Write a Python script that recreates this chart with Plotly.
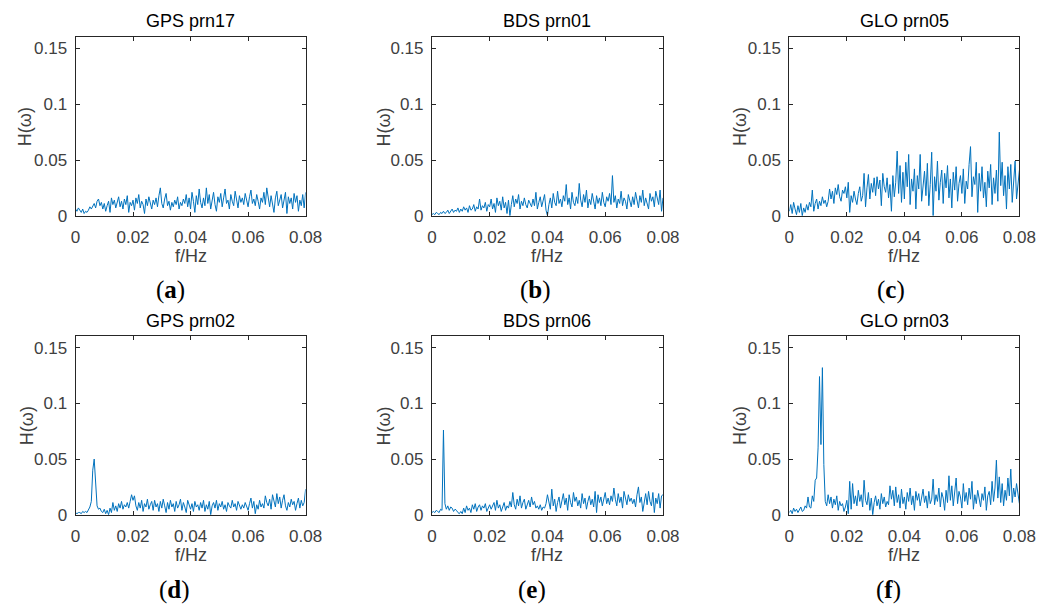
import plotly.graph_objects as go
import numpy as np

# Frequency grid (Hz), 0 to 0.08 at 0.0005 Hz spacing
freq = np.round(np.arange(161) * 0.0005, 4).tolist()

titles = ["GPS prn17", "BDS prn01", "GLO prn05", "GPS prn02", "BDS prn06", "GLO prn03"]
panel_labels = ["a", "b", "c", "d", "e", "f"]
x_ticks = [0, 0.02, 0.04, 0.06, 0.08]
x_tick_text = ["0", "0.02", "0.04", "0.06", "0.08"]
y_ticks = [0, 0.05, 0.1, 0.15]
y_tick_text = ["0", "0.05", "0.1", "0.15"]

gps_prn17 = [
    0.006, 0.004, 0.007, 0.005, 0.003, 0.006, 0.002, 0.004, 0.003, 0.005,
    0.008, 0.006, 0.009, 0.011, 0.007, 0.013, 0.015, 0.009, 0.012, 0.006,
    0.011, 0.004, 0.009, 0.013, 0.003, 0.016, 0.010, 0.014, 0.007, 0.012,
    0.017, 0.008, 0.013, 0.006, 0.015, 0.010, 0.018, 0.003, 0.012, 0.009,
    0.014, 0.005, 0.016, 0.011, 0.019, 0.007, 0.013, 0.010, 0.002, 0.015,
    0.009, 0.017, 0.012, 0.006, 0.014, 0.010, 0.016, 0.008, 0.018, 0.025,
    0.011, 0.007, 0.015, 0.020, 0.009, 0.013, 0.005, 0.012, 0.008, 0.014,
    0.010, 0.017, 0.006, 0.012, 0.009, 0.015, 0.011, 0.019, 0.008, 0.016,
    0.006, 0.021, 0.013, 0.003, 0.018, 0.010, 0.024, 0.012, 0.007, 0.016,
    0.009, 0.025, 0.011, 0.019, 0.006, 0.015, 0.021, 0.010, 0.004, 0.017,
    0.012, 0.020, 0.008, 0.016, 0.024, 0.011, 0.014, 0.006, 0.019, 0.013,
    0.009, 0.022, 0.015, 0.007, 0.018, 0.012, 0.016, 0.010, 0.020, 0.014,
    0.008, 0.017, 0.023, 0.011, 0.015, 0.009, 0.019, 0.013, 0.006, 0.016,
    0.012, 0.021, 0.010, 0.025, 0.014, 0.008, 0.018, 0.011, 0.003, 0.016,
    0.022, 0.009, 0.015, 0.019, 0.007, 0.013, 0.021, 0.002, 0.017, 0.011,
    0.016, 0.006, 0.020, 0.012, 0.018, 0.004, 0.014, 0.009, 0.019, 0.007,
    0.021,
]

bds_prn01 = [
    0.001, 0.002, 0.001, 0.003, 0.002, 0.001, 0.003, 0.002, 0.004, 0.002,
    0.003, 0.005, 0.002, 0.004, 0.006, 0.003, 0.005, 0.004, 0.007, 0.003,
    0.006, 0.004, 0.008, 0.005, 0.007, 0.003, 0.009, 0.005, 0.006, 0.010,
    0.004, 0.008, 0.006, 0.015, 0.005, 0.009, 0.007, 0.012, 0.004, 0.010,
    0.008, 0.015, 0.006, 0.011, 0.003, 0.016, 0.009, 0.013, 0.005, 0.017,
    0.007, 0.012, 0.002, 0.014, 0.000, 0.010, 0.018, 0.008, 0.015, 0.011,
    0.019, 0.006, 0.013, 0.009, 0.016, 0.010, 0.007, 0.014, 0.011, 0.008,
    0.015, 0.009, 0.021, 0.006, 0.012, 0.017, 0.008, 0.013, 0.019, 0.005,
    0.000, 0.010, 0.016, 0.007, 0.020, 0.012, 0.009, 0.022, 0.011, 0.015,
    0.008, 0.018, 0.013, 0.028, 0.010, 0.016, 0.006, 0.021, 0.012, 0.009,
    0.017, 0.011, 0.029, 0.014, 0.008, 0.019, 0.012, 0.023, 0.007, 0.015,
    0.010, 0.020, 0.013, 0.006, 0.018, 0.011, 0.016, 0.009, 0.021, 0.012,
    0.008, 0.017, 0.013, 0.020, 0.010, 0.036, 0.012, 0.018, 0.007, 0.015,
    0.011, 0.022, 0.009, 0.016, 0.013, 0.006, 0.019, 0.012, 0.008, 0.017,
    0.010, 0.021, 0.014, 0.007, 0.018, 0.012, 0.023, 0.009, 0.016, 0.011,
    0.006, 0.020, 0.013, 0.017, 0.008, 0.022, 0.014, 0.010, 0.023, 0.004,
    0.016,
]

glo_prn05 = [
    0.004, 0.010, 0.002, 0.012, 0.006, 0.001, 0.009, 0.003, 0.011, 0.000,
    0.007, 0.003, 0.010, 0.005, 0.012, 0.008, 0.023, 0.004, 0.011, 0.015,
    0.006, 0.013, 0.009, 0.017, 0.011, 0.014, 0.008, 0.013, 0.024, 0.015,
    0.022, 0.011, 0.025, 0.019, 0.028, 0.017, 0.013, 0.023, 0.020, 0.026,
    0.016, 0.030, 0.003, 0.018, 0.012, 0.022, 0.015, 0.010, 0.020, 0.026,
    0.013, 0.018, 0.038, 0.008, 0.025, 0.037, 0.015, 0.029, 0.021, 0.034,
    0.018, 0.035, 0.024, 0.032, 0.009, 0.038, 0.026, 0.021, 0.034, 0.016,
    0.028, 0.004, 0.036, 0.017, 0.030, 0.058, 0.020, 0.045, 0.012, 0.039,
    0.015, 0.048, 0.026, 0.055, 0.010, 0.033, 0.022, 0.042, 0.006, 0.036,
    0.024, 0.055, 0.013, 0.031, 0.040, 0.018, 0.047, 0.009, 0.028, 0.057,
    0.000, 0.035, 0.022, 0.049, 0.014, 0.030, 0.041, 0.011, 0.038, 0.025,
    0.045, 0.016, 0.033, 0.007, 0.039, 0.023, 0.044, 0.013, 0.029, 0.036,
    0.020, 0.042, 0.011, 0.031, 0.024, 0.046, 0.062, 0.017, 0.035, 0.028,
    0.048, 0.003, 0.038, 0.022, 0.044, 0.016, 0.030, 0.008, 0.040, 0.025,
    0.046, 0.010, 0.034, 0.020, 0.041, 0.013, 0.075, 0.027, 0.048, 0.018,
    0.036, 0.006, 0.044, 0.024, 0.046, 0.012, 0.031, 0.049, 0.015, 0.029,
    0.041,
]

gps_prn02 = [
    0.002, 0.001, 0.002, 0.002, 0.001, 0.003, 0.002, 0.003, 0.002, 0.004,
    0.007, 0.012, 0.040, 0.050, 0.030, 0.008, 0.005, 0.006, 0.003, 0.002,
    0.005, 0.001, 0.004, 0.000, 0.006, 0.002, 0.011, 0.004, 0.008, 0.003,
    0.010, 0.006, 0.012, 0.005, 0.009, 0.007, 0.011, 0.006, 0.012, 0.018,
    0.013, 0.017, 0.008, 0.004, 0.011, 0.006, 0.013, 0.003, 0.010, 0.007,
    0.014, 0.005, 0.009, 0.012, 0.004, 0.013, 0.007, 0.010, 0.003, 0.012,
    0.006, 0.014, 0.008, 0.002, 0.011, 0.005, 0.013, 0.007, 0.010, 0.003,
    0.012, 0.006, 0.009, 0.014, 0.004, 0.011, 0.007, 0.002, 0.013, 0.008,
    0.005, 0.010, 0.003, 0.012, 0.007, 0.009, 0.004, 0.011, 0.006, 0.013,
    0.003, 0.009, 0.005, 0.012, 0.000, 0.008, 0.011, 0.006, 0.013, 0.004,
    0.010, 0.007, 0.012, 0.005, 0.009, 0.003, 0.011, 0.008, 0.006, 0.013,
    0.007, 0.010, 0.004, 0.012, 0.008, 0.005, 0.009, 0.006, 0.011, 0.007,
    0.004, 0.010, 0.015, 0.006, 0.012, 0.001, 0.009, 0.005, 0.013, 0.007,
    0.010, 0.006, 0.017, 0.011, 0.008, 0.014, 0.005, 0.018, 0.012, 0.007,
    0.019, 0.010, 0.016, 0.006, 0.013, 0.018, 0.008, 0.004, 0.011, 0.007,
    0.014, 0.009, 0.012, 0.004, 0.010, 0.015, 0.006, 0.013, 0.008, 0.011,
    0.023,
]

bds_prn06 = [
    0.002, 0.003, 0.002, 0.004, 0.003, 0.002, 0.005, 0.004, 0.076, 0.010,
    0.005, 0.008, 0.004, 0.007, 0.006, 0.003, 0.005, 0.004, 0.002, 0.001,
    0.003, 0.001, 0.006, 0.002, 0.008, 0.004, 0.006, 0.002, 0.009, 0.005,
    0.010, 0.003, 0.007, 0.009, 0.004, 0.008, 0.006, 0.010, 0.003, 0.007,
    0.009, 0.005, 0.008, 0.011, 0.004, 0.013, 0.006, 0.009, 0.003, 0.007,
    0.011, 0.004, 0.008, 0.006, 0.012, 0.007, 0.020, 0.009, 0.005, 0.014,
    0.008, 0.017, 0.006, 0.011, 0.014, 0.005, 0.010, 0.013, 0.007, 0.016,
    0.009, 0.012, 0.006, 0.008, 0.005, 0.009, 0.004, 0.007, 0.006, 0.010,
    0.018, 0.012, 0.005, 0.023, 0.008, 0.014, 0.003, 0.011, 0.016, 0.006,
    0.013, 0.019, 0.009, 0.015, 0.004, 0.018, 0.011, 0.007, 0.020, 0.012,
    0.016, 0.008, 0.013, 0.006, 0.019, 0.010, 0.015, 0.005, 0.012, 0.017,
    0.009, 0.014, 0.007, 0.021, 0.002, 0.018, 0.011, 0.016, 0.008, 0.013,
    0.020, 0.010, 0.015, 0.009, 0.017, 0.012, 0.024, 0.014, 0.008, 0.019,
    0.011, 0.016, 0.006, 0.021, 0.013, 0.009, 0.018, 0.012, 0.015, 0.010,
    0.014, 0.007, 0.018, 0.025, 0.011, 0.016, 0.003, 0.013, 0.019, 0.009,
    0.021, 0.012, 0.008, 0.020, 0.002, 0.015, 0.010, 0.019, 0.006, 0.017,
    0.018,
]

glo_prn03 = [
    0.002, 0.004, 0.001, 0.006, 0.003, 0.005, 0.002, 0.004, 0.007, 0.003,
    0.004, 0.008, 0.006, 0.016, 0.007, 0.006, 0.017, 0.012, 0.031, 0.033,
    0.060, 0.124, 0.063, 0.132, 0.045, 0.012, 0.008, 0.018, 0.010, 0.016,
    0.006, 0.014, 0.009, 0.017, 0.004, 0.012, 0.008, 0.010, 0.003, 0.007,
    0.013, 0.001, 0.030, 0.005, 0.028, 0.010, 0.017, 0.008, 0.022, 0.012,
    0.018, 0.007, 0.031, 0.013, 0.009, 0.020, 0.004, 0.015, 0.000, 0.011,
    0.017, 0.008, 0.014, 0.005, 0.019, 0.010, 0.016, 0.007, 0.012, 0.009,
    0.026, 0.014, 0.022, 0.008, 0.025, 0.011, 0.018, 0.006, 0.023, 0.010,
    0.016, 0.005, 0.020, 0.012, 0.024, 0.009, 0.017, 0.004, 0.021, 0.013,
    0.019, 0.008, 0.015, 0.023, 0.011, 0.017, 0.006, 0.021, 0.010, 0.014,
    0.032, 0.009, 0.018, 0.012, 0.024, 0.007, 0.020, 0.015, 0.004, 0.022,
    0.011, 0.035, 0.013, 0.026, 0.008, 0.019, 0.033, 0.010, 0.021, 0.016,
    0.006, 0.028, 0.012, 0.020, 0.009, 0.024, 0.014, 0.030, 0.005, 0.018,
    0.010, 0.022, 0.016, 0.007, 0.019, 0.013, 0.025, 0.004, 0.017, 0.021,
    0.009, 0.030, 0.012, 0.024, 0.049, 0.015, 0.034, 0.011, 0.028, 0.008,
    0.022, 0.013, 0.033, 0.017, 0.041, 0.011, 0.024, 0.016, 0.028, 0.019,
    0.010,
]

series = [gps_prn17, bds_prn01, glo_prn05, gps_prn02, bds_prn06, glo_prn03]

W, H = 1056, 615
# plot-area pixel boxes (left, right) for columns and (top, bottom) for rows
cols = [(72, 307), (436, 672), (801, 1036)]
rows = [(38, 219.3), (342, 523.3)]
ylab_x = [[20, 387, 750], [22, 387, 750]]
lab_x = [[169, 542, 905], [173, 538, 902]]

LINE = "#0072BD"
AXC = "#262626"
TICKC = "#404040"
FONT = "Liberation Sans, Arial, sans-serif"

fig = go.Figure()
annotations = []
for i, ys in enumerate(series):
    r, c = divmod(i, 3)
    n = i + 1
    xa = "x" if n == 1 else f"x{n}"
    ya = "y" if n == 1 else f"y{n}"
    fig.add_trace(go.Scatter(x=freq, y=ys, mode="lines",
                             line=dict(color=LINE, width=1),
                             xaxis=xa, yaxis=ya, showlegend=False,
                             hoverinfo="skip"))
    l, rr = cols[c]
    t, b = rows[r]
    xdom = [l / W, rr / W]
    ydom = [1 - b / H, 1 - t / H]
    axcommon = dict(showgrid=False, zeroline=False, showline=True,
                    linecolor=AXC, linewidth=1, mirror="ticks",
                    ticks="inside", ticklen=4, tickwidth=1, tickcolor=AXC,
                    tickfont=dict(family=FONT, size=17, color=TICKC))
    fig.update_layout(**{
        ("xaxis" if n == 1 else f"xaxis{n}"): dict(
            domain=xdom, range=[0, 0.08], tickvals=x_ticks, ticktext=x_tick_text,
            anchor=ya, ticklabelstandoff=6, **axcommon),
        ("yaxis" if n == 1 else f"yaxis{n}"): dict(
            domain=ydom, range=[0, 0.16], tickvals=y_ticks, ticktext=y_tick_text,
            anchor=xa, ticklabelstandoff=4, **axcommon),
    })
    cx = (l + rr) / 2
    # title
    annotations.append(dict(text=titles[i], x=cx / W, y=1 - (t - 4) / H,
                            xref="paper", yref="paper", xanchor="center", yanchor="bottom",
                            showarrow=False, font=dict(family=FONT, size=18, color="#000000")))
    # x label
    annotations.append(dict(text="f/Hz", x=cx / W, y=1 - (b + 41) / H,
                            xref="paper", yref="paper", xanchor="center", yanchor="middle",
                            showarrow=False, font=dict(family=FONT, size=18, color=TICKC)))
    # y label
    annotations.append(dict(text="H(ω)", x=ylab_x[r][c] / W, y=1 - ((t + b) / 2) / H,
                            xref="paper", yref="paper", xanchor="center", yanchor="middle",
                            textangle=-90, showarrow=False,
                            font=dict(family=FONT, size=18, color=TICKC)))
    # panel label
    annotations.append(dict(text=f"(<b>{panel_labels[i]}</b>)", x=lab_x[r][c] / W,
                            y=1 - (b + 76) / H,
                            xref="paper", yref="paper", xanchor="center", yanchor="middle",
                            showarrow=False,
                            font=dict(family="Liberation Serif, DejaVu Serif, serif", size=25, color="#000000")))

fig.update_layout(width=W, height=H, margin=dict(l=0, r=0, t=0, b=0),
                  paper_bgcolor="white", plot_bgcolor="white",
                  annotations=annotations)
fig.write_html("out.html")
